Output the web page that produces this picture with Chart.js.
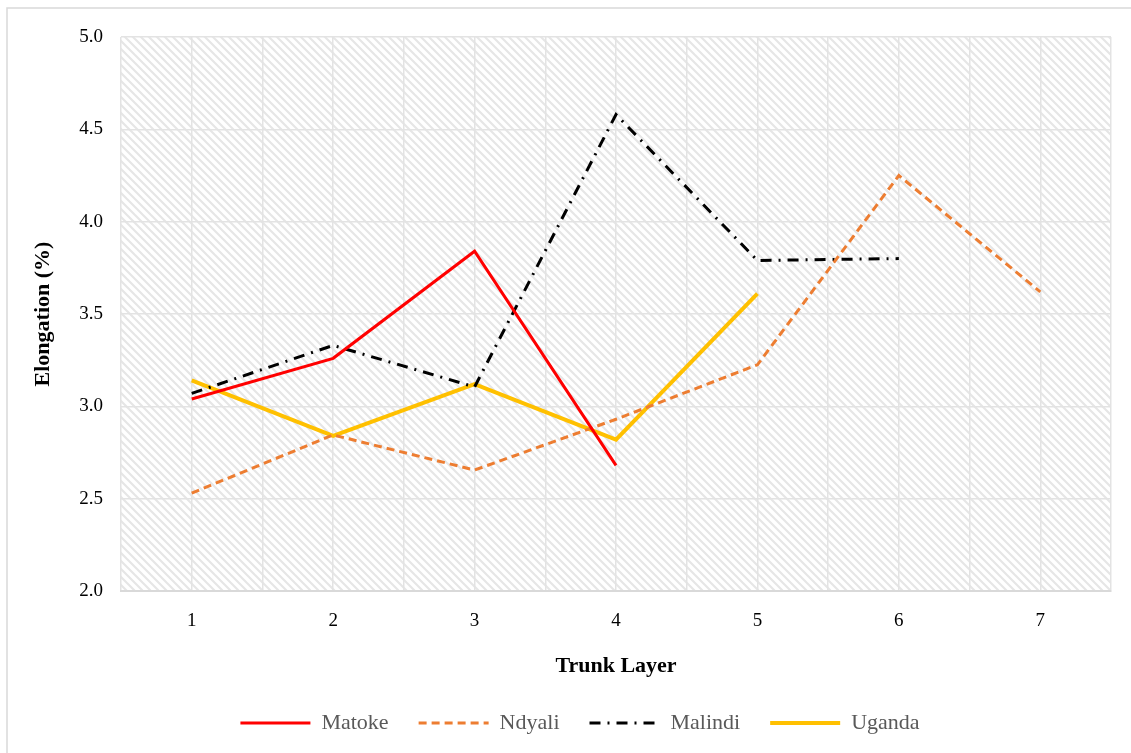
<!DOCTYPE html>
<html>
<head>
<meta charset="utf-8">
<script src="https://cdn.jsdelivr.net/npm/chart.js@4"></script>
<style>
  html, body { margin: 0; padding: 0; background: #fff; }
  #wrap { width: 1131px; height: 753px; position: relative; }
</style>
</head>
<body>
<div id="wrap"><canvas id="chart" width="1131" height="753"></canvas></div>
<script>
const layers = [1, 2, 3, 4, 5, 6, 7];
const matoke = [3.04, 3.26, 3.84, 2.68, null, null, null];
const ndyali = [2.53, 2.845, 2.655, 2.93, 3.225, 4.25, 3.62];
const malindi = [3.07, 3.33, 3.105, 4.58, 3.79, 3.80, null];
const uganda = [3.14, 2.84, 3.12, 2.82, 3.61, null, null];
const yTicks = [2.0, 2.5, 3.0, 3.5, 4.0, 4.5, 5.0];

const serif = '"Liberation Serif", "Times New Roman", serif';

function points(vals) {
  return layers.map((l, i) => ({ x: l, y: vals[i] }));
}

function hatch() {
  const c = document.createElement('canvas');
  c.width = 8; c.height = 8;
  const g = c.getContext('2d');
  g.strokeStyle = '#e6e6e6';
  g.lineWidth = 2.2;
  g.beginPath();
  g.moveTo(-2, -2); g.lineTo(10, 10);
  g.moveTo(-10, -2); g.lineTo(2, 10);
  g.moveTo(6, -2); g.lineTo(18, 10);
  g.stroke();
  return g.createPattern(c, 'repeat');
}

const bgPlugin = {
  id: 'bg',
  beforeDraw(chart) {
    const { ctx, chartArea: a } = chart;
    ctx.save();
    ctx.fillStyle = hatch();
    ctx.fillRect(a.left, a.top, a.right - a.left, a.bottom - a.top);
    ctx.strokeStyle = '#d9d9d9';
    ctx.lineWidth = 1.5;
    ctx.strokeRect(7, 8, 1200, 800);
    ctx.restore();
  },
  afterLayout(chart) {
    // Excel centres the legend a bit left of the plot
    chart.legend.left = 0;
    chart.legend.right = 1160;
  }
};

const ds = (label, vals, color, width, dash) => ({
  label,
  data: points(vals),
  borderColor: color,
  backgroundColor: color,
  borderWidth: width,
  borderDash: dash,
  pointRadius: 0,
  spanGaps: false,
  tension: 0
});

new Chart(document.getElementById('chart'), {
  type: 'line',
  data: {
    datasets: [
      ds('Matoke', matoke, '#ff0000', 3, []),
      ds('Ndyali', ndyali, '#ed7d31', 3, [8, 5]),
      ds('Malindi', malindi, '#000000', 3, [11, 7, 2, 7]),
      ds('Uganda', uganda, '#ffc000', 4, [])
    ]
  },
  options: {
    responsive: false,
    animation: false,
    layout: { padding: { left: 30, right: 20, top: 37, bottom: 9 } },
    plugins: {
      tooltip: { enabled: false },
      legend: {
        position: 'bottom',
        labels: {
          usePointStyle: true,
          pointStyle: 'line',
          pointStyleWidth: 70,
          padding: 30,
          color: '#595959',
          font: { family: serif, size: 22 },
          generateLabels(chart) {
            return chart.data.datasets.map((d, i) => ({
              text: d.label,
              datasetIndex: i,
              fillStyle: d.borderColor,
              strokeStyle: d.borderColor,
              lineWidth: d.borderWidth,
              lineDash: d.borderDash,
              pointStyle: 'line',
              fontColor: '#595959',
              hidden: false
            }));
          }
        }
      }
    },
    scales: {
      x: {
        type: 'linear',
        min: 0.5,
        max: 7.5,
        afterBuildTicks(scale) {
          const t = [];
          for (let v = 0.5; v <= 7.5; v += 0.5) t.push({ value: v });
          scale.ticks = t;
        },
        afterFit(scale) { scale.height = 91; },
        grid: { color: '#e3e3e3', lineWidth: 1.5, drawTicks: false },
        border: { color: '#d9d9d9', width: 2 },
        ticks: {
          autoSkip: false,
          maxRotation: 0,
          padding: 19,
          color: '#000',
          font: { family: serif, size: 19 },
          callback: (v) => (Number.isInteger(v) && layers.includes(v) ? String(v) : '')
        },
        title: {
          display: true,
          text: 'Trunk Layer',
          color: '#000',
          padding: { top: 0, bottom: 2 },
          font: { family: serif, size: 22, weight: 'bold' }
        }
      },
      y: {
        min: 2,
        max: 5,
        afterBuildTicks(scale) { scale.ticks = yTicks.map(v => ({ value: v })); },
        afterFit(scale) { scale.width = 91; },
        grid: { color: '#e3e3e3', lineWidth: 1.5, drawTicks: false },
        border: { display: false },
        ticks: {
          padding: 18,
          color: '#000',
          font: { family: serif, size: 19 },
          callback: (v) => v.toFixed(1)
        },
        title: {
          display: true,
          text: 'Elongation (%)',
          color: '#000',
          padding: { top: 0, bottom: 0 },
          font: { family: serif, size: 22, weight: 'bold' }
        }
      }
    }
  },
  plugins: [bgPlugin]
});
</script>
</body>
</html>
